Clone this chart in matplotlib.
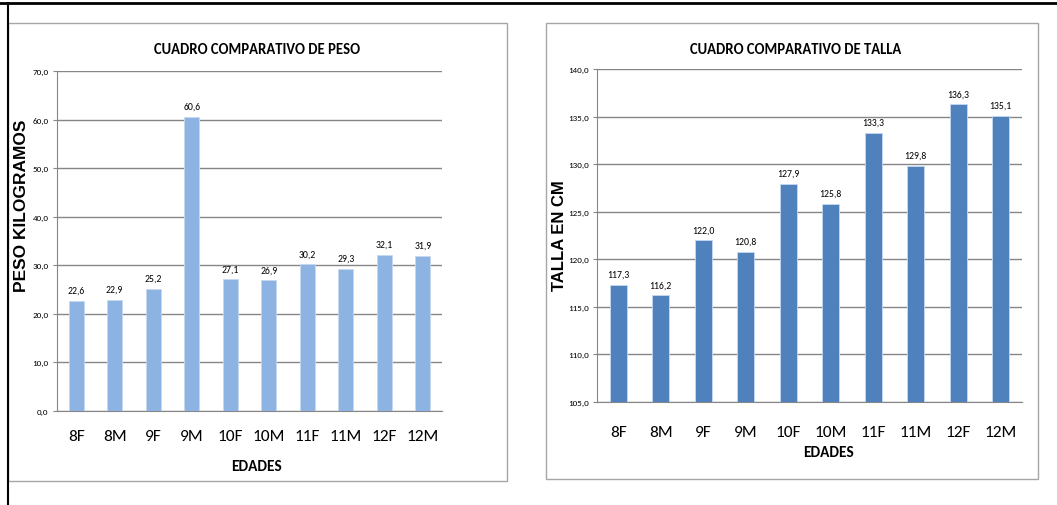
import matplotlib.pyplot as plt
from matplotlib.patches import Rectangle
from matplotlib.lines import Line2D
from matplotlib import font_manager

edades = ["8F", "8M", "9F", "9M", "10F", "10M", "11F", "11M", "12F", "12M"]
peso = [22.6, 22.9, 25.2, 60.6, 27.1, 26.9, 30.2, 29.3, 32.1, 31.9]
talla = [117.3, 116.2, 122.0, 120.8, 127.9, 125.8, 133.3, 129.8, 136.3, 135.1]

# pick a narrow, Calibri-like face if one is present
names = {f.name for f in font_manager.fontManager.ttflist}
narrow = next((n for n in ["Carlito", "Roboto Condensed", "Open Sans Condensed",
                           "Liberation Sans Narrow"] if n in names), "DejaVu Sans")
plt.rcParams["font.family"] = [narrow, "DejaVu Sans"]
wide = ["Liberation Sans", "DejaVu Sans"]

W, H = 1057, 506
fig = plt.figure(figsize=(W / 100, H / 100), dpi=100)


def fx(x):
    return x / W


def fy(y):
    return 1 - y / H


# outer frame lines
fig.add_artist(Line2D([0, 1], [fy(4), fy(4)], color="black", lw=2))
fig.add_artist(Line2D([fx(8), fx(8)], [fy(4), 0], color="black", lw=1.5))

# chart panels
for x0, y0, x1, y1 in [(8, 24, 507, 482), (546, 24, 1038, 480)]:
    fig.add_artist(Rectangle((fx(x0), fy(y1)), fx(x1 - x0), (y1 - y0) / H,
                             facecolor="white", edgecolor="#a6a6a6", lw=1, zorder=-1))


def bar_chart(rect, values, color, ylim, step, title, ylabel, width, xlab_pad,
              title_pos, ylab_pos, ylab_size, xlab_pos):
    l, t, r, b = rect
    ax = fig.add_axes([fx(l), fy(b), fx(r - l), (b - t) / H])
    ax.patch.set_alpha(0)
    x = range(len(values))
    ax.bar(x, [v - ylim[0] for v in values], bottom=ylim[0], width=width,
           color=color, edgecolor="#c6d9f1", lw=0.6, zorder=3)
    for bx, v in zip(x, values):
        ax.text(bx, v + (ylim[1] - ylim[0]) * 0.018, f"{v:.1f}".replace(".", ","),
                ha="center", va="bottom", fontsize=7)
    ax.set_xlim(-0.5, len(values) - 0.5)
    ax.set_ylim(*ylim)
    ticks = [ylim[0] + i * step for i in range(int((ylim[1] - ylim[0]) / step) + 1)]
    ax.set_yticks(ticks)
    ax.set_yticklabels([f"{tk:.1f}".replace(".", ",") for tk in ticks], fontsize=6.5)
    ax.set_xticks(list(x))
    ax.set_xticklabels(edades, fontsize=12.5)
    ax.tick_params(axis="x", length=0, pad=xlab_pad)
    ax.tick_params(axis="y", length=3, color="#868686", pad=3)
    ax.grid(axis="y", color="#868686", lw=1, zorder=0)
    for s in ["top", "right"]:
        ax.spines[s].set_visible(False)
    for s in ["left", "bottom"]:
        ax.spines[s].set_color("#868686")
    fig.text(fx(title_pos[0]), fy(title_pos[1]), title, ha="center", va="center",
             fontsize=10.5, fontweight="bold")
    fig.text(fx(ylab_pos[0]), fy(ylab_pos[1]), ylabel, ha="center", va="center",
             rotation=90, fontsize=ylab_size, fontweight="bold", family=wide)
    fig.text(fx(xlab_pos[0]), fy(xlab_pos[1]), "EDADES", ha="center", va="center",
             fontsize=11, fontweight="bold")
    return ax


bar_chart((57, 72, 442, 412), peso, "#8db3e2", (0, 70), 10,
          "CUADRO COMPARATIVO DE PESO", "PESO KILOGRAMOS", 0.39, 13,
          (257, 50), (22, 206), 12.5, (256, 467))
bar_chart((597, 70, 1022, 403), talla, "#4f81bd", (105, 140), 5,
          "CUADRO COMPARATIVO DE TALLA", "TALLA EN CM", 0.4, 16.5,
          (796, 50), (559, 236), 12, (829, 453))

fig.savefig("out.png", dpi=100)
